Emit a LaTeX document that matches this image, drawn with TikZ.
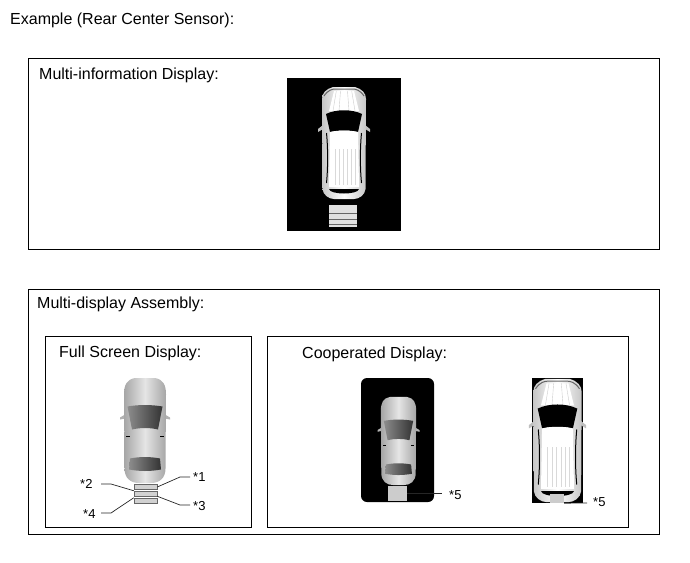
\documentclass[tikz,border=0pt]{standalone}
\usepackage{fontspec}
\setmainfont{Liberation Sans}
\begin{document}
\begin{tikzpicture}[x=1pt,y=-1pt,
                        frame/.style={draw=black,line width=0.7pt},
                        heading/.style={anchor=base west,inner sep=0pt,font=\fontsize{16}{18}\selectfont},
                        callout/.style={anchor=west,inner sep=0pt,font=\fontsize{13}{15}\selectfont},
                        leader/.style={draw=black!85,line width=0.7pt},
                        sensorbar/.style={draw=black!60,fill=black!18,line width=0.5pt,inner sep=0pt,minimum width=23pt,minimum height=5pt},
                        zonebox/.style={fill=black!20,inner sep=0pt},
                        sedan/.pic={
                            %Spiegel
                            \fill [black!30] (-20,-16) -- (-25,-13) -- (-25,-11) -- (-20,-12) -- cycle;
                            \fill [black!30] (20,-16) -- (25,-13) -- (25,-11) -- (20,-12) -- cycle;
                            %Karosserie
                            \shade [left color=black!35,right color=black!35,middle color=black!10]
                                (-10,-52.5) -- (10,-52.5) .. controls (18,-51) and (21,-46) .. (21,-36) -- (20.5,38)
                                .. controls (20.5,48) and (14,52.5) .. (6,52.5) -- (-6,52.5)
                                .. controls (-14,52.5) and (-20.5,48) .. (-20.5,38) -- (-21,-36)
                                .. controls (-21,-46) and (-18,-51) .. (-10,-52.5) -- cycle;
                            %Scheiben
                            \shade [left color=black!45,right color=black!80]
                                (-17.5,-24) .. controls (-6,-26) and (6,-26) .. (17.5,-24) -- (13,-1)
                                .. controls (5,-3) and (-5,-3) .. (-13,-1) -- cycle;
                            \shade [left color=black!45,right color=black!80]
                                (-15,28) .. controls (-5,26) and (5,26) .. (15,28) -- (16,39)
                                .. controls (5,41) and (-5,41) .. (-16,39) -- cycle;
                            %Tuerlinien
                            \fill [black] (-19,5) rectangle (-15,6);
                            \fill [black] (15,5) rectangle (19,6);
                        },
                        suv/.pic={
                            %Spiegel
                            \fill [black!25] (-21,-18) -- (-26,-14) -- (-26,-11) -- (-21,-14) -- cycle;
                            \fill [black!25] (21,-18) -- (26,-14) -- (26,-11) -- (21,-14) -- cycle;
                            %Karosserie
                            \shade [left color=black!22,right color=black!22,middle color=white]
                                (-11,-56) -- (11,-56) .. controls (18,-54) and (22,-50) .. (22,-44) -- (21.5,46)
                                .. controls (21,52) and (15,56) .. (10,56) -- (-10,56)
                                .. controls (-15,56) and (-21,52) .. (-21.5,46) -- (-22,-44)
                                .. controls (-22,-50) and (-18,-54) .. (-11,-56) -- cycle;
                            \draw [black!60,line width=1pt] (-20,-47) .. controls (-16,-53) and (-12,-54) .. (-8,-54) -- (8,-54)
                                .. controls (12,-54) and (16,-53) .. (20,-47);
                            %Haube
                            \fill [white] (-10,-52) -- (10,-52) -- (15,-32) -- (-15,-32) -- cycle;
                            \foreach \x in {-11,-5,5,11}
                            \draw [black!20,line width=0.4pt] (\x*0.7,-52) -- (\x,-32);
                            %Scheiben
                            \fill [black] (-18,-29) .. controls (-8,-34) and (8,-34) .. (18,-29) -- (14,-11)
                                .. controls (5,-13) and (-5,-13) .. (-14,-11) -- cycle;
                            \fill [black] (-15,46) -- (15,46) .. controls (14,52) and (-14,52) .. (-15,46) -- cycle;
                            \draw [black,line width=1pt] (-17.5,-10) .. controls (-16,5) and (-16,25) .. (-17.5,40);
                            \draw [black,line width=1pt] (17.5,-10) .. controls (16,5) and (16,25) .. (17.5,40);
                            %Dach
                            \fill [white] (-14,-11) .. controls (-5,-13) and (5,-13) .. (14,-11) -- (15,44) -- (-15,44) -- cycle;
                            \foreach \x in {-9,-5,-1,3,7,11}
                            \draw [black!15,line width=0.4pt] (\x,6) -- (\x,42);
                        },
                        ]
    \useasboundingbox (0,0) rectangle (690,562);
    %Rahmen
    \draw [frame] (28,58) rectangle (659,249);
    \draw [frame] (28,289) rectangle (659,534);
    \draw [frame] (45,336) rectangle (251,527);
    \draw [frame] (267,336) rectangle (628,527);
    %Ueberschriften
    \node [heading] (title) at (10,24) {Example (Rear Center Sensor):};
    \node [heading] (mid) at (39,79) {Multi-information Display:};
    \node [heading] (mda) at (37,308) {Multi-display Assembly:};
    \node [heading] (full) at (59,357) {Full Screen Display:};
    \node [heading] (coop) at (302,358) {Cooperated Display:};
    %oberes Fahrzeug
    \fill [black] (287,78) rectangle (401,231);
    \pic at (344,143) {suv};
    \fill [black!12] (329,205) rectangle (357,227);
    \foreach \y in {213,219,224}
    \draw [black!60,line width=0.6pt] (329,\y) -- (357,\y);
    %Full Screen
    \pic at (145,430.5) {sedan};
    \node [sensorbar] (bara) at (145.5,487) {};
    \node [sensorbar] (barb) at (145.5,493.5) {};
    \node [sensorbar] (barc) at (145.5,500.5) {};
    \node [callout] (laba) at (193,477) {*1};
    \node [callout] (labb) at (80,484) {*2};
    \node [callout] (labc) at (193,506) {*3};
    \node [callout] (labd) at (83,514) {*4};
    \coordinate (knicka) at (180,477);
    \coordinate (knickb) at (111,484);
    \coordinate (knickc) at (180,505);
    \coordinate (knickd) at (111,513);
    \coordinate (enda) at (190,477);
    \coordinate (endb) at (101,484);
    \coordinate (endc) at (190,505);
    \coordinate (endd) at (101,513);
    \draw [leader] (bara.east) -- (knicka) -- (enda);
    \draw [leader] (barb.north west) -- (knickb) -- (endb);
    \draw [leader] (barb.south east) -- (knickc) -- (endc);
    \draw [leader] (barc.north west) -- (knickd) -- (endd);
    %Cooperated links
    \fill [black,rounded corners=6pt] (361,378) rectangle (434,502);
    \pic [scale=0.84] at (398.5,441) {sedan};
    \node [zonebox,minimum width=19pt,minimum height=15pt] (zonea) at (397.5,493.5) {};
    \node [callout] (labe) at (449,495) {*5};
    \coordinate (ende) at (442,493.5);
    \draw [leader] (zonea.east) -- (ende);
    %Cooperated rechts
    \fill [black] (532,378) rectangle (583,503);
    \pic [scale=1.1] at (557.5,440.5) {suv};
    \node [zonebox,minimum width=14pt,minimum height=9pt] (zoneb) at (557,498.5) {};
    \node [callout] (labf) at (593,502) {*5};
    \coordinate (endf) at (587,503);
    \draw [leader] (zoneb.south east) -- (endf);
\end{tikzpicture}
\end{document}
